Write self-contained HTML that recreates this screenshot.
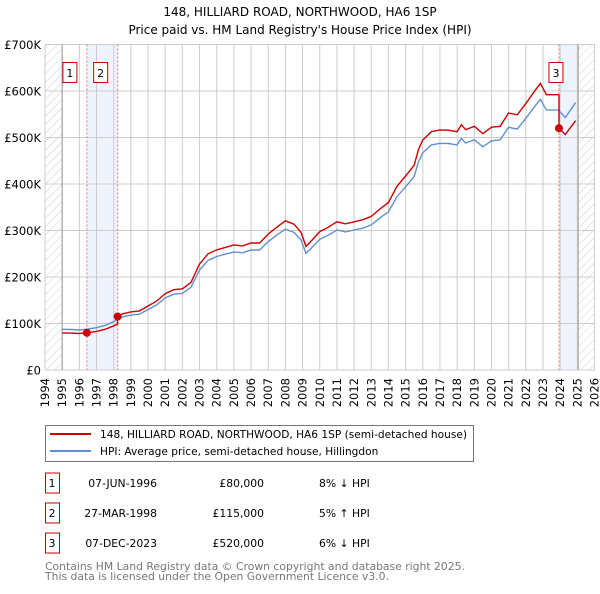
<!DOCTYPE html>
<html><head><meta charset="utf-8">
<style>
body{margin:0;background:#fff;font-family:"DejaVu Sans","Liberation Sans",sans-serif;}
svg text{font-family:"DejaVu Sans","Liberation Sans",sans-serif;}
</style></head>
<body>
<svg id="chart" width="600" height="590" viewBox="0 0 600 590" xmlns="http://www.w3.org/2000/svg">
<defs>
<pattern id="hatch" patternUnits="userSpaceOnUse" width="6" height="6" patternTransform="rotate(45)">
<line x1="0" y1="0" x2="0" y2="6" stroke="#ccc" stroke-width="1"/>
</pattern>
</defs>
<text x="300" y="16" text-anchor="middle" font-size="12">148, HILLIARD ROAD, NORTHWOOD, HA6 1SP</text>
<text x="300" y="34" text-anchor="middle" font-size="12">Price paid vs. HM Land Registry's House Price Index (HPI)</text>
<g id="plot"></g>
<g>
<rect x="45.5" y="425.5" width="428" height="36" fill="#fff" stroke="#777"/>
<line x1="50" y1="434" x2="91" y2="434" stroke="#cc0000" stroke-width="2"/>
<text x="100" y="438" font-size="10.6">148, HILLIARD ROAD, NORTHWOOD, HA6 1SP (semi-detached house)</text>
<line x1="50" y1="451" x2="91" y2="451" stroke="#6090d0" stroke-width="2"/>
<text x="100" y="455" font-size="10.6">HPI: Average price, semi-detached house, Hillingdon</text>
</g>
<g id="table"></g>
<text x="45" y="570" font-size="10.8" fill="#777">Contains HM Land Registry data © Crown copyright and database right 2025.</text>
<text x="45" y="580" font-size="10.8" fill="#777">This data is licensed under the Open Government Licence v3.0.</text>
</svg>
<script>
const hpiYears=[1995,1995.5,1996,1996.5,1997,1997.5,1998,1998.5,1999,1999.5,2000,2000.5,2001,2001.5,2002,2002.5,2003,2003.5,2004,2004.5,2005,2005.5,2006,2006.5,2007,2007.5,2008,2008.5,2008.9,2009.2,2009.5,2010,2010.5,2011,2011.5,2012,2012.5,2013,2013.5,2014,2014.5,2015,2015.5,2015.75,2016,2016.5,2017,2017.5,2018,2018.25,2018.5,2019,2019.5,2020,2020.5,2021,2021.5,2022,2022.5,2022.85,2023.2,2023.9,2024.3,2024.9];
const hpiValues=[87.5,87,86,88,91,96,104,114,118,120,130,140,155,163,165,178,215,236,244,249,254,252,258,258,276,290,303,296,280,251,262,281,290,301,297,301,305,312,327,340,373,394,416,448,467,484,487.5,487,484,498,488,495,480,493,495,522,518,541,566,582,559,559,543,575];
const saleLabels=["1","2","3"];
const saleYears=[1996.44,1998.23,2023.93];
const salePrices=[80,115,520];
const saleDates=["07-JUN-1996","27-MAR-1998","07-DEC-2023"];
const salePriceText=["£80,000","£115,000","£520,000"];
const saleHpiText=["8% ↓ HPI","5% ↑ HPI","6% ↓ HPI"];
const yTicks=[0,100,200,300,400,500,600,700];
const yTickLabels=["£0","£100K","£200K","£300K","£400K","£500K","£600K","£700K"];

const NS="http://www.w3.org/2000/svg";
const X0=45,X1=594.5,Y0=370,Y1=44.5;
const xs=y=>X0+(y-1994)/32*(X1-X0);
const ys=v=>Y0-v/700*(Y0-Y1);
const plot=document.getElementById('plot');
function mk(tag,attrs,parent){const e=document.createElementNS(NS,tag);for(const k in attrs)e.setAttribute(k,attrs[k]);(parent||plot).appendChild(e);return e;}
function hpiAt(t){for(let i=0;i<hpiYears.length-1;i++){if(t>=hpiYears[i]&&t<=hpiYears[i+1]){const f=(t-hpiYears[i])/(hpiYears[i+1]-hpiYears[i]);return hpiValues[i]+f*(hpiValues[i+1]-hpiValues[i]);}}return hpiValues[hpiValues.length-1];}

let h=mk('rect',{x:X0,y:Y1,width:xs(1995)-X0,height:Y0-Y1,fill:'url(#hatch)'});


h=mk('rect',{x:xs(2025.05),y:Y1,width:X1-xs(2025.05),height:Y0-Y1,fill:'url(#hatch)'});


let b=mk('rect',{x:xs(saleYears[0]),y:Y1,width:xs(saleYears[1])-xs(saleYears[0]),height:Y0-Y1,fill:'#eef3fc'});


b=mk('rect',{x:xs(saleYears[2]),y:Y1,width:xs(2025.05)-xs(saleYears[2]),height:Y0-Y1,fill:'#eef3fc'});


for(let yr=1994;yr<=2026;yr++){
  const g=mk('line',{x1:xs(yr),x2:xs(yr),y1:Y1,y2:Y0,stroke:'#ccc','stroke-width':1});
  
  
  const t=mk('text',{x:0,y:0,'font-size':11.5,'text-anchor':'end',transform:`translate(${xs(yr)+4},378) rotate(-90)`});
  t.textContent=String(yr);
  
  
}
yTicks.forEach((v,i)=>{
  const g=mk('line',{x1:X0,x2:X1,y1:ys(v),y2:ys(v),stroke:'#ccc','stroke-width':1});
  
  
  const t=mk('text',{x:41,y:ys(v)+4.5,'font-size':11.5,'text-anchor':'end'});
  t.textContent=yTickLabels[i];
  
  
});
let ax=mk('line',{x1:xs(1995),x2:xs(1995),y1:Y1,y2:Y0,stroke:'#999'});


ax=mk('line',{x1:xs(2025.05),x2:xs(2025.05),y1:Y1,y2:Y0,stroke:'#999'});


saleYears.forEach((sy,i)=>{
  const l=mk('line',{x1:xs(sy),x2:xs(sy),y1:Y1,y2:Y0,stroke:'#f07070','stroke-dasharray':'2,2'});
  
  
  const r=mk('rect',{x:xs(sy)-(i==2?10:24),y:62.5,width:14,height:20,fill:'#fff',stroke:'#cc0000'});
  
  
  const t=mk('text',{x:xs(sy)-(i==2?3:17),y:77,'font-size':11,'text-anchor':'middle'});
  t.textContent=saleLabels[i];
  
  
});
let d=hpiYears.map((t,i)=>(i?'L':'M')+xs(t).toFixed(1)+','+ys(hpiValues[i]).toFixed(1)).join('');
const hp=mk('path',{d:d,fill:'none',stroke:'#6090d0','stroke-width':1.4});


let pts=[];
const f=saleYears.map((sy,i)=>salePrices[i]/hpiAt(sy));
function seg(a,bnd,k){const arr=[a];hpiYears.forEach(t=>{if(t>a&&t<bnd)arr.push(t)});arr.push(bnd);return arr.map(t=>[t,hpiAt(t)*k]);}
pts=pts.concat(seg(1995,saleYears[1],f[0]));
pts=pts.concat(seg(saleYears[1],saleYears[2],f[1]));
pts=pts.concat(seg(saleYears[2],2024.9,f[2]));
d=pts.map((p,i)=>(i?'L':'M')+xs(p[0]).toFixed(1)+','+ys(p[1]).toFixed(1)).join('');
const pp=mk('path',{d:d,fill:'none',stroke:'#cc0000','stroke-width':1.4});


saleYears.forEach((sy,i)=>{
  const c=mk('circle',{cx:xs(sy),cy:ys(salePrices[i]),r:4,fill:'#cc0000'});
  
  
});
const tb=document.getElementById('table');
saleLabels.forEach((lab,i)=>{
  const cy=483+i*30;
  const r=mk('rect',{x:45.5,y:cy-10,width:14,height:20,fill:'#fff',stroke:'#cc0000'},tb);
  
  
  const cells=[[52,'middle',lab],[157,'end',saleDates[i]],[264,'end',salePriceText[i]],[319,'start',saleHpiText[i]]];
  cells.forEach((c,j)=>{
    const t=mk('text',{x:c[0],y:cy+4,'font-size':10.8,'text-anchor':c[1]},tb);
    t.textContent=c[2];
    
    
  });
});
</script>
</body></html>
